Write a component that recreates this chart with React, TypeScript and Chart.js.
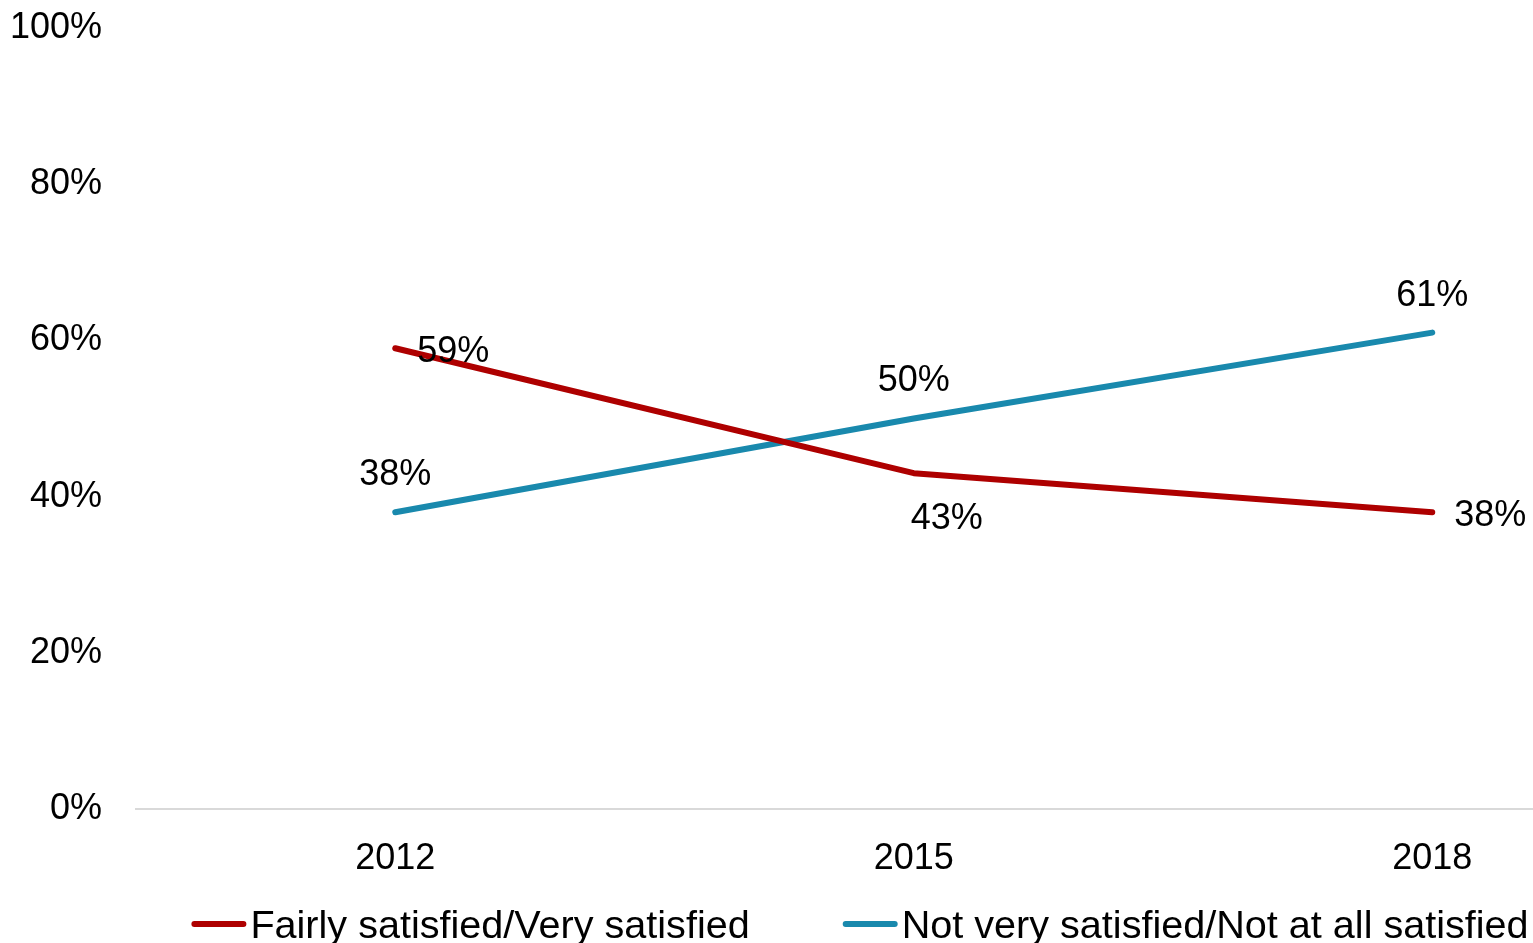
import React, { useEffect, useRef } from "react";
import { Chart, registerables } from "chart.js";

Chart.register(...registerables);

// ---- Data ----
const categories = ["2012", "2015", "2018"];
const fairlySatisfied = [59, 43, 38];
const notSatisfied = [38, 50, 61];
const seriesLabels = ["Fairly satisfied/Very satisfied", "Not very satisfied/Not at all satisfied"];
const yTicks = [0, 20, 40, 60, 80, 100];

// ---- Styles ----
const FONT = "'Liberation Sans', Arial, sans-serif";
const FONT_SIZE = 36;
const LEGEND_FONT_SIZE = 39.6;
const RED = "#AE0000";
const BLUE = "#1989AD";
const LINE_W = 6;
const CANVAS_W = 1720;
const CANVAS_H = 960;

// label placement per dataset / point (style only)
const labelPlacement = [
  [
    { pos: "right", dx: 0, dy: 4 },
    { pos: "below", dx: 33, dy: 2 },
    { pos: "right", dx: 0, dy: 4 },
  ],
  [
    { pos: "above", dx: 0, dy: 2 },
    { pos: "above", dx: 0, dy: 2 },
    { pos: "above", dx: 0, dy: 2 },
  ],
];

const overlayPlugin = {
  id: "overlay",
  afterDatasetsDraw(chart: any) {
    const ctx = chart.ctx;
    ctx.save();
    ctx.font = `${FONT_SIZE}px ${FONT}`;
    ctx.fillStyle = "#000";
    ctx.textBaseline = "middle";
    chart.data.datasets.forEach((ds: any, di: number) => {
      const meta = chart.getDatasetMeta(di);
      meta.data.forEach((pt: any, i: number) => {
        const p = labelPlacement[di][i];
        const text = ds.data[i] + "%";
        let x = pt.x;
        let y = pt.y;
        if (p.pos === "right") {
          ctx.textAlign = "left";
          x += 22;
        } else {
          ctx.textAlign = "center";
        }
        if (p.pos === "above") y -= 39;
        if (p.pos === "below") y += 44;
        ctx.fillText(text, x + p.dx, y + p.dy);
      });
    });
    ctx.restore();
  },
  afterDraw(chart: any) {
    const ctx = chart.ctx;
    ctx.save();
    ctx.font = `${LEGEND_FONT_SIZE}px ${FONT}`;
    ctx.textBaseline = "middle";
    ctx.textAlign = "left";
    const lineLen = 55;
    const gap = 4;
    const itemGap = 93;
    const items = chart.data.datasets.map((ds: any) => ({
      label: ds.label,
      color: ds.borderColor,
      w: ctx.measureText(ds.label).width,
    }));
    const total = items.reduce((s: number, it: any) => s + lineLen + gap + it.w, 0) + itemGap * (items.length - 1);
    let x = chart.width / 2 - total / 2;
    const y = chart.chartArea.bottom + 115;
    items.forEach((it: any) => {
      ctx.strokeStyle = it.color;
      ctx.lineWidth = LINE_W;
      ctx.lineCap = "round";
      ctx.beginPath();
      ctx.moveTo(x + 3, y);
      ctx.lineTo(x + lineLen - 3, y);
      ctx.stroke();
      ctx.fillStyle = "#000";
      ctx.fillText(it.label, x + lineLen + gap, y + 3);
      x += lineLen + gap + it.w + itemGap;
    });
    ctx.restore();
  },
};

export default function App() {
  const canvasRef = useRef<HTMLCanvasElement | null>(null);

  useEffect(() => {
    if (!canvasRef.current) return;
    const chart = new Chart(canvasRef.current, {
      type: "line",
      data: {
        labels: categories,
        datasets: [
          {
            label: seriesLabels[0],
            data: fairlySatisfied,
            borderColor: RED,
            backgroundColor: RED,
            borderWidth: LINE_W,
            pointRadius: 0,
            tension: 0,
            borderCapStyle: "round",
            borderJoinStyle: "round",
          },
          {
            label: seriesLabels[1],
            data: notSatisfied,
            borderColor: BLUE,
            backgroundColor: BLUE,
            borderWidth: LINE_W,
            pointRadius: 0,
            tension: 0,
            borderCapStyle: "round",
            borderJoinStyle: "round",
          },
        ],
      },
      options: {
        responsive: false,
        animation: false,
        layout: { padding: { top: 28, right: 28.5, bottom: 71, left: 0 } },
        plugins: {
          legend: { display: false },
          tooltip: { enabled: false },
        },
        scales: {
          x: {
            offset: true,
            grid: { display: false },
            border: { display: true, color: "#D9D9D9", width: 2 },
            ticks: {
              color: "#000",
              padding: 20,
              font: { family: FONT, size: FONT_SIZE },
              maxRotation: 0,
            },
            afterFit: (s: any) => {
              s.height = 80;
            },
          },
          y: {
            min: 0,
            max: 100,
            grid: { display: false },
            border: { display: false },
            afterBuildTicks: (s: any) => {
              s.ticks = yTicks.map((v) => ({ value: v }));
            },
            ticks: {
              color: "#000",
              padding: 26,
              font: { family: FONT, size: FONT_SIZE },
              callback: (v: any) => v + "%",
            },
            afterFit: (s: any) => {
              s.width = 136;
              s.paddingTop = 0;
              s.paddingBottom = 0;
            },
          },
        },
      },
      plugins: [overlayPlugin],
    });
    return () => chart.destroy();
  }, []);

  return (
    <div
      style={{
        position: "fixed",
        left: 0,
        top: 0,
        width: 1533,
        height: 943,
        overflow: "hidden",
        background: "#fff",
      }}
    >
      <canvas ref={canvasRef} width={CANVAS_W} height={CANVAS_H} style={{ width: CANVAS_W, height: CANVAS_H, display: "block" }} />
    </div>
  );
}
